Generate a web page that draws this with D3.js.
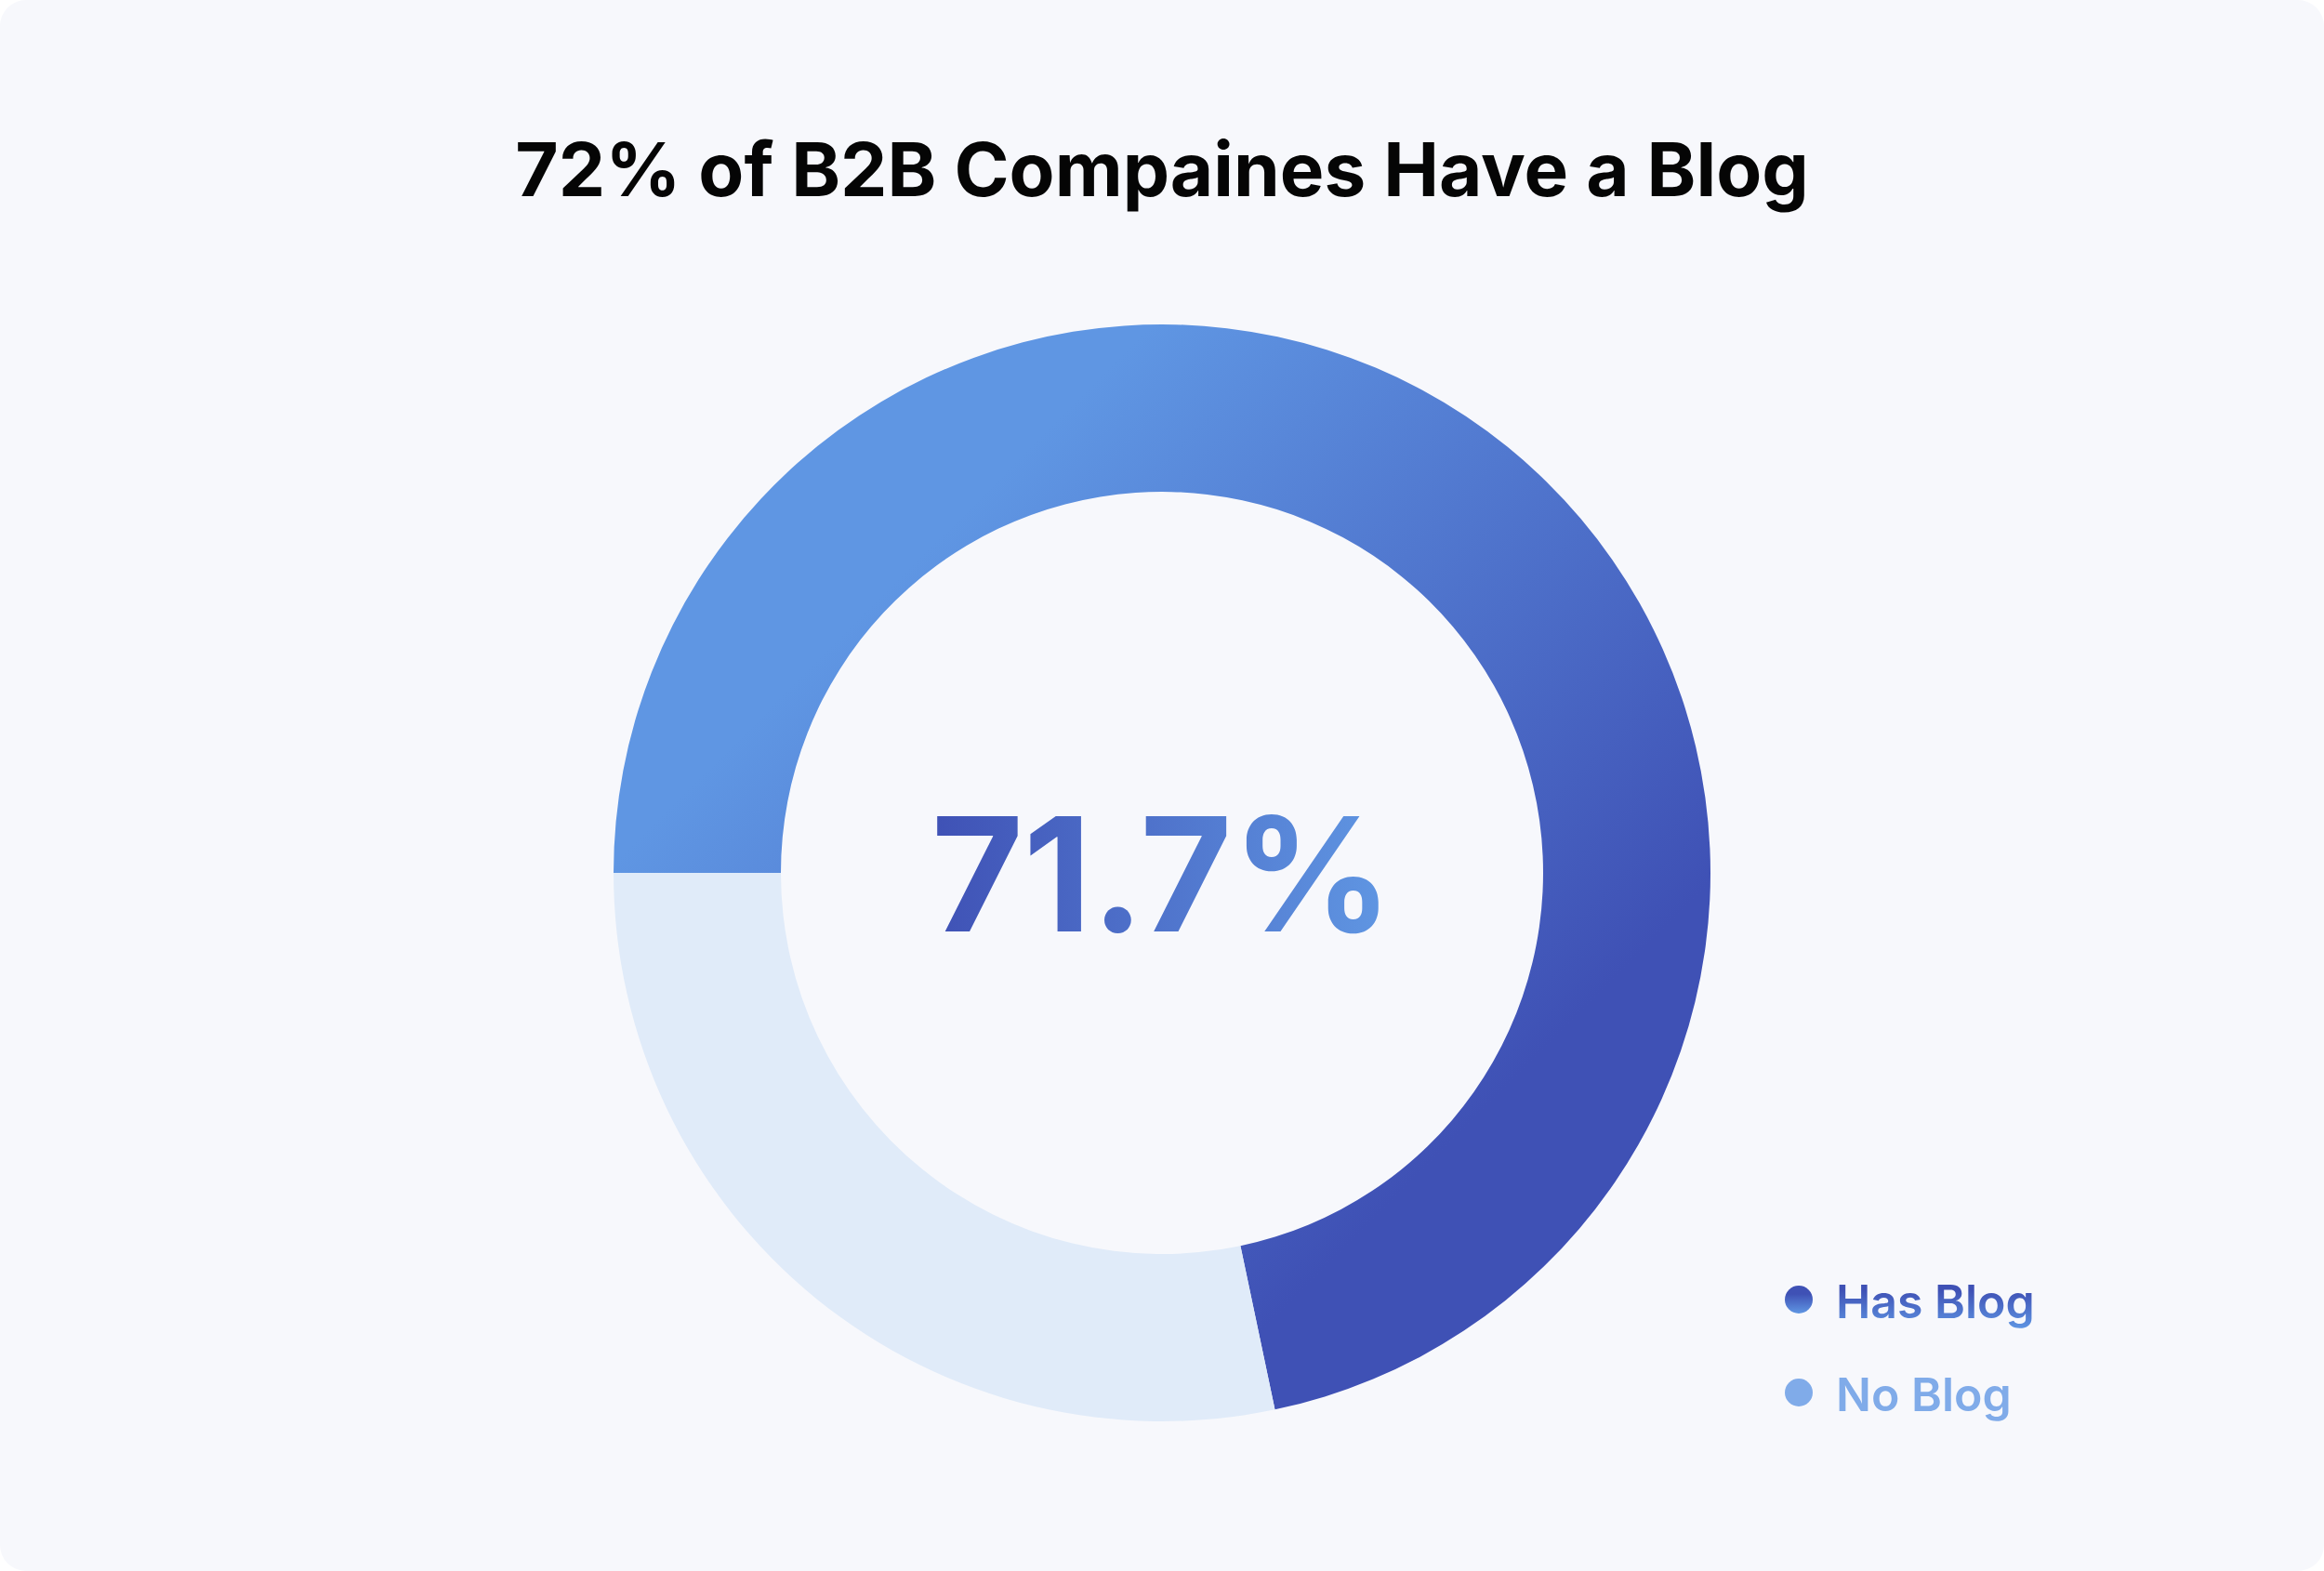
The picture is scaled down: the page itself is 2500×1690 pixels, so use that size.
<!DOCTYPE html>
<html>
<head>
<meta charset="utf-8">
<script src="https://cdn.jsdelivr.net/npm/d3@7"></script>
<style>
  html, body { margin: 0; padding: 0; background: #ffffff; }
  svg { display: block; }
  text { font-family: Inter, "Noto Sans", sans-serif; }
</style>
</head>
<body>
<svg id="chart" width="2500" height="1690"></svg>
<script>
// ---- data ----
const categories = ["Has Blog", "No Blog"];
const values = [71.7, 28.3];
const title = "72% of B2B Compaines Have a Blog";
const centerLabel = "71.7%";

// ---- layout ----
const W = 2500, H = 1690;
const cx = 1250, cy = 939;
const outerR = 590, innerR = 410;

const svg = d3.select("#chart");
const defs = svg.append("defs");

// gradients (ring gradient in the donut group's local coordinates)
const ringGrad = defs.append("linearGradient")
  .attr("id", "ringGrad").attr("gradientUnits", "userSpaceOnUse")
  .attr("x1", -280).attr("y1", -320)
  .attr("x2", 320).attr("y2", 280);
ringGrad.append("stop").attr("offset", 0).attr("stop-color", "#5f96e3");
ringGrad.append("stop").attr("offset", 1).attr("stop-color", "#3f51b5");

const textGrad = defs.append("linearGradient")
  .attr("id", "textGrad").attr("x1", 0).attr("y1", 0).attr("x2", 1).attr("y2", 0);
textGrad.append("stop").attr("offset", 0).attr("stop-color", "#3f51b5");
textGrad.append("stop").attr("offset", 1).attr("stop-color", "#6097e3");

const legGrad = defs.append("linearGradient")
  .attr("id", "legGrad").attr("x1", 0).attr("y1", 0).attr("x2", 0).attr("y2", 1);
legGrad.append("stop").attr("offset", 0.3).attr("stop-color", "#3f51b5");
legGrad.append("stop").attr("offset", 1).attr("stop-color", "#5f96e3");

const fills = ["url(#ringGrad)", "#e0ebf9"];
const legendFills = ["url(#legGrad)", "#80abe9"];

// card background
svg.append("rect")
  .attr("x", 0).attr("y", 0).attr("width", W).attr("height", H)
  .attr("rx", 28).attr("ry", 28)
  .attr("fill", "#f7f8fc");

// title
svg.append("text")
  .attr("x", cx).attr("y", 211)
  .attr("text-anchor", "middle")
  .attr("font-size", 80)
  .attr("font-weight", 700)
  .attr("fill", "#050505")
  .text(title);

// donut
const pie = d3.pie().sort(null)
  .startAngle(-Math.PI / 2).endAngle(Math.PI * 1.5)
  .value(d => d);
const arc = d3.arc().innerRadius(innerR).outerRadius(outerR);

const g = svg.append("g").attr("transform", `translate(${cx},${cy})`);
g.selectAll("path.slice")
  .data(pie(values))
  .join("path")
  .attr("class", "slice")
  .attr("d", arc)
  .attr("fill", (d, i) => fills[i]);

// center label
g.append("text")
  .attr("x", 0).attr("y", 63)
  .attr("text-anchor", "middle")
  .attr("font-size", 170)
  .attr("font-weight", 700)
  .attr("letter-spacing", 0)
  .attr("fill", "url(#textGrad)")
  .text(centerLabel);

// legend
const legend = svg.append("g").attr("transform", "translate(1935,1398)");
const items = legend.selectAll("g.item")
  .data(categories)
  .join("g")
  .attr("class", "item")
  .attr("transform", (d, i) => `translate(0,${i * 100})`);
items.append("circle")
  .attr("r", 15)
  .attr("fill", (d, i) => legendFills[i]);
items.append("text")
  .attr("x", 40).attr("y", 20)
  .attr("font-size", 50)
  .attr("font-weight", 600)
  .attr("fill", (d, i) => legendFills[i])
  .text(d => d);
</script>
</body>
</html>
